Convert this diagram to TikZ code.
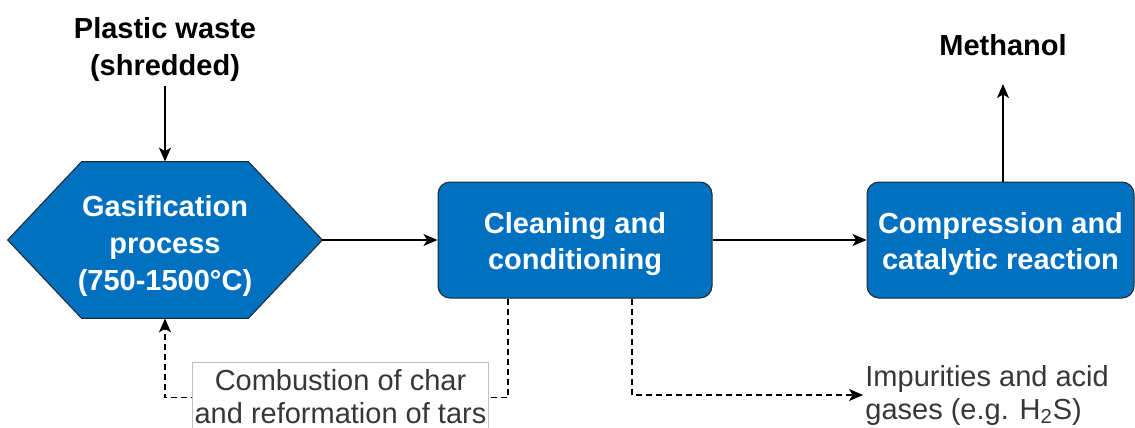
\documentclass[tikz,border=0pt]{standalone}
\usepackage{fontspec}
\setmainfont{Liberation Sans}
\usetikzlibrary{arrows.meta,positioning,backgrounds}
\definecolor{procblue}{RGB}{0,112,192}
\definecolor{notegray}{RGB}{55,55,55}

\begin{document}
\begin{tikzpicture}[x=0.5pt, y=-0.5pt,
   flow/.style={-{Stealth[length=7pt,width=6pt,inset=1.8pt]}, line width=0.75pt},
   dashflow/.style={flow, dash pattern=on 3pt off 2pt},
   hexbox/.style={rectangle, minimum width=157pt, minimum height=78pt,
     inner sep=0pt, text=white, align=center,
     font=\fontsize{14.5}{18.5}\selectfont\bfseries},
   hexfill/.style={fill=procblue, draw=black!85, line width=0.5pt},
   procbox/.style={rectangle, rounded corners=6pt, minimum height=58pt,
     inner sep=0pt, fill=procblue, draw=black!85, line width=0.5pt, text=white,
     align=center, font=\fontsize{14.5}{18}\selectfont\bfseries},
   endtext/.style={inner sep=2pt, align=center, font=\fontsize{14.5}{18.5}\selectfont\bfseries},
   note/.style={inner xsep=1pt, inner ysep=3.5pt, text=notegray, font=\fontsize{14.5}{16.5}\selectfont}]
   \useasboundingbox (0,0) rectangle (1135,428);
   % main line
   \node[endtext] (waste) at (165,50) {Plastic waste\\(shredded)};
   \node[hexbox] (gas) at (165,240) {\rule{0pt}{16.5pt}Gasification\\process\\(750-1500°C)};
   \begin{scope}[on background layer]
     \draw[hexfill] (gas.west) -- ([xshift=37pt]gas.north west) -- ([xshift=-37pt]gas.north east)
       -- (gas.east) -- ([xshift=-37pt]gas.south east) -- ([xshift=37pt]gas.south west) -- cycle;
   \end{scope}
   \node[procbox, minimum width=137pt] (clean) at (575,240) {\rule{0pt}{14.5pt}Cleaning and\\conditioning};
   \node[procbox, minimum width=133.5pt] (comp) at (1000.5,240) {\rule{0pt}{14.5pt}Compression and\\catalytic reaction};
   \node[endtext] (meth) at (1003,45) {Methanol};
   \draw[flow] (waste) -- (gas);
   \draw[flow] (gas) -- (clean);
   \draw[flow] (clean) -- (comp);
   \draw[flow, shorten >=12pt] (comp.north -| meth.south) -- (meth.south);
   % side streams
   \draw[dashflow] ([xshift=-33.5pt]clean.south) -- ++(0,99) -| (gas.south);
   \node[note, inner ysep=1pt, align=left, anchor=west] (imp) at (863,395) {Impurities and acid\\gases (e.g. H\textsubscript{2}S)};
   \draw[dashflow] ([xshift=28.5pt]clean.south) |- (imp.west);
   \node[note, draw=black!25, fill=white, align=center, line width=0.5pt] (tars) at (340.5,397) {Combustion of char\\and reformation of tars};
\end{tikzpicture}
\end{document}
